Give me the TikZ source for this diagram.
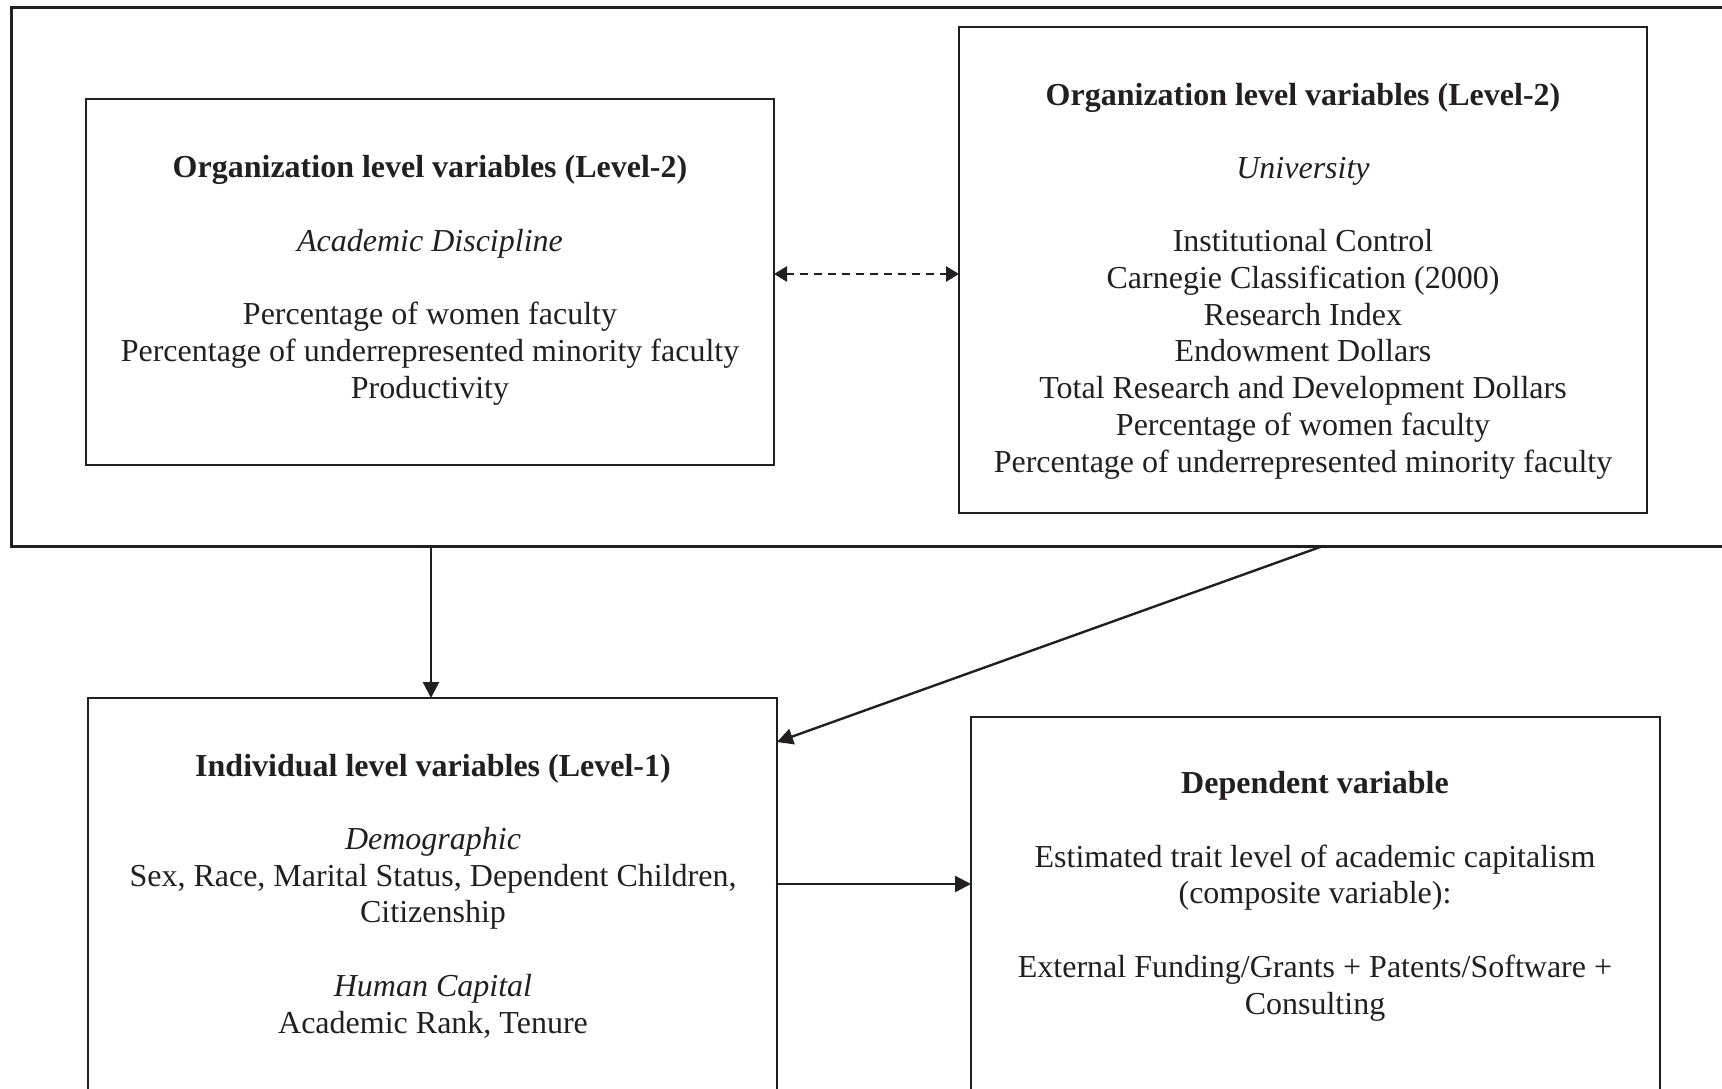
\documentclass[tikz,border=0pt]{standalone}
\usepackage{fontspec}
\setmainfont{Liberation Serif}
\usetikzlibrary{arrows.meta,calc}
\definecolor{ink}{HTML}{231F20}
\begin{document}
\begin{tikzpicture}[x=1pt,y=-1pt,
  every node/.style={inner sep=0pt,outer sep=0pt},
  outerbox/.style={draw=ink,line width=3pt,rectangle},
  varbox/.style={draw=ink,line width=2pt,rectangle},
  boxtext/.style={align=center,anchor=base,text=ink,font=\fontsize{32}{36.7}\selectfont},
  conn/.style={draw=ink,line width=2.4pt,-{Triangle[length=16pt,width=16pt]}},
  dconn/.style={draw=ink,line width=2.8pt,dash pattern=on 8pt off 6pt,{Triangle[length=13pt,width=15pt]}-{Triangle[length=13pt,width=15pt]}}]
\useasboundingbox (0,0) rectangle (1722,1089);
% outer frame
\node[outerbox,minimum width=1724pt,minimum height=538pt] (outer) at (873,277) {};
% boxes
\node[varbox,minimum width=688pt,minimum height=366pt] (A) at (430,282) {};
\node[varbox,minimum width=688pt,minimum height=486pt] (B) at (1303,270) {};
\node[varbox,minimum width=689pt,minimum height=420pt] (C) at (432.5,908) {};
\node[varbox,minimum width=689pt,minimum height=400pt] (D) at (1315.5,917) {};
% texts (anchor base = baseline of last line)
\node[boxtext] (tA) at (430,398) {\textbf{Organization level variables (Level-2)}\\[36.7pt]
  \textit{Academic Discipline}\\[36.7pt]
  Percentage of women faculty\\
  Percentage of underrepresented minority faculty\\
  Productivity};
\node[boxtext] (tB) at (1303,472) {\textbf{Organization level variables (Level-2)}\\[36.7pt]
  \textit{University}\\[36.7pt]
  Institutional Control\\
  Carnegie Classification (2000)\\
  Research Index\\
  Endowment Dollars\\
  Total Research and Development Dollars\\
  Percentage of women faculty\\
  Percentage of underrepresented minority faculty};
\node[boxtext] (tC) at (433,1033) {\textbf{Individual level variables (Level-1)}\\[36.7pt]
  \textit{Demographic}\\
  Sex, Race, Marital Status, Dependent Children,\\
  Citizenship\\[36.7pt]
  \textit{Human Capital}\\
  Academic Rank, Tenure};
\node[boxtext] (tD) at (1315,1014) {\textbf{Dependent variable}\\[36.7pt]
  Estimated trait level of academic capitalism\\
  (composite variable):\\[36.7pt]
  External Funding/Grants + Patents/Software +\\
  Consulting};
% connectors
\coordinate (dy) at (0,274);
\coordinate (hy) at (0,884);
\draw[dconn] (A.east |- dy) -- (B.west |- dy);
\draw[conn] (outer.south -| 431,0) -- (C.north -| 431,0);
\draw[conn] ([xshift=20pt]outer.south -| B.south) -- ([yshift=-44pt]C.north east);
\draw[conn] (C.east |- hy) -- (D.west |- hy);
\end{tikzpicture}
\end{document}
